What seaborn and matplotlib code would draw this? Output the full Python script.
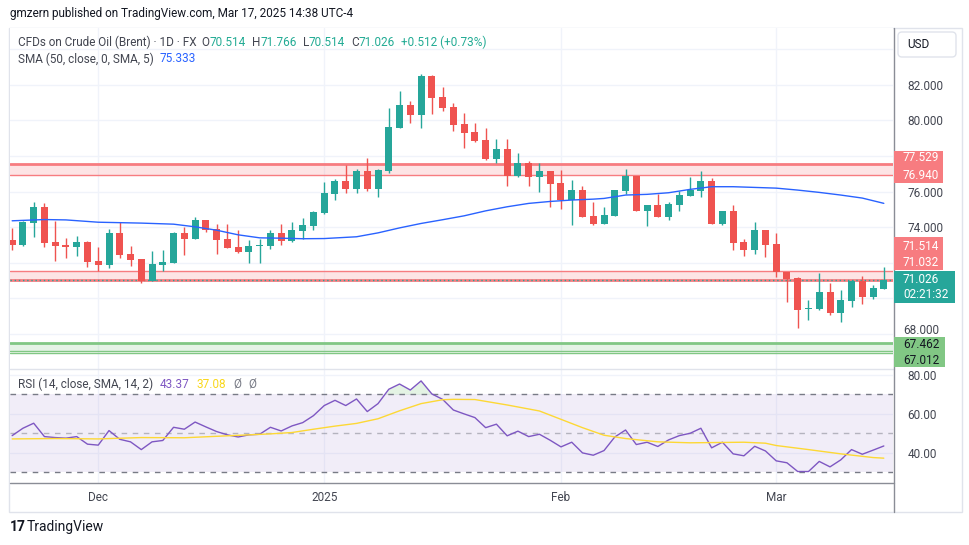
import numpy as np
import pandas as pd
import matplotlib
matplotlib.use("Agg")
import matplotlib.pyplot as plt
import seaborn as sns
from matplotlib.patches import Rectangle, FancyBboxPatch
from matplotlib.lines import Line2D
from matplotlib.transforms import IdentityTransform

# DATOS (barras diarias)
opens = [73.26, 72.98, 74.24, 75.14, 73.15, 72.98, 72.88, 73.15, 72.08, 71.87,
         73.65, 72.47, 72.19, 70.97, 71.87, 71.98, 73.65, 73.33, 74.39, 73.88,
         73.32, 72.86, 72.58, 72.94, 72.92, 73.65, 73.20, 73.79, 74.07, 74.80,
         75.87, 76.59, 76.15, 77.15, 76.15, 77.17, 79.59, 80.87, 80.33, 82.51,
         81.32, 80.76, 79.80, 79.35, 78.90, 77.83, 78.39, 76.87, 77.60, 76.83,
         77.15, 76.47, 75.52, 76.08, 74.61, 74.18, 74.63, 76.02, 76.87, 74.91,
         75.23, 74.58, 75.23, 75.74, 76.04, 76.59, 74.18, 74.89, 73.15, 72.70,
         73.82, 73.03, 71.49, 71.10, 69.39, 69.39, 70.33, 69.16, 69.84, 70.95,
         70.06, 70.514]
highs = [73.92, 74.35, 75.40, 75.33, 74.33, 73.37, 73.48, 73.20, 72.86, 73.88,
         74.27, 72.92, 72.19, 72.64, 72.70, 73.71, 73.99, 74.56, 74.39, 74.16,
         74.16, 73.82, 73.26, 73.35, 73.82, 74.16, 74.27, 74.50, 74.89, 76.53,
         76.72, 77.49, 77.26, 77.88, 77.26, 80.70, 81.66, 81.08, 82.60, 82.56,
         81.89, 80.98, 80.42, 79.86, 79.58, 78.95, 78.95, 78.17, 77.71, 77.60,
         77.15, 77.21, 76.64, 76.30, 75.40, 75.12, 76.08, 77.26, 76.87, 75.23,
         75.87, 75.40, 76.02, 76.81, 77.15, 76.74, 74.89, 75.23, 73.32, 74.27,
         73.82, 73.65, 71.49, 71.19, 69.88, 71.40, 70.83, 70.44, 71.00, 71.23,
         70.72, 71.766]
lows = [72.70, 72.94, 73.45, 72.88, 72.08, 72.26, 72.38, 71.76, 71.53, 71.70,
        72.26, 71.81, 70.85, 70.97, 71.51, 71.98, 72.43, 73.33, 73.73, 72.47,
        72.83, 72.55, 71.98, 71.98, 72.75, 72.98, 73.15, 73.35, 73.82, 74.73,
        75.52, 75.93, 75.93, 76.04, 75.70, 77.06, 79.59, 79.88, 79.59, 80.38,
        80.55, 79.42, 78.47, 78.77, 77.77, 77.60, 76.30, 76.81, 76.30, 75.98,
        75.14, 75.03, 74.12, 74.58, 74.12, 74.18, 74.63, 75.87, 74.91, 74.07,
        74.58, 74.41, 74.91, 75.74, 75.70, 74.18, 74.12, 72.70, 72.38, 72.47,
        72.32, 71.19, 69.78, 68.32, 68.77, 69.33, 69.05, 68.65, 69.50, 69.67,
        69.95, 70.514]
closes = [72.98, 74.26, 75.14, 73.11, 72.94, 72.88, 73.15, 72.04, 71.87, 73.65,
          72.43, 72.15, 70.97, 71.91, 72.04, 73.65, 73.33, 74.39, 73.82, 73.26,
          72.83, 72.58, 72.92, 72.98, 73.65, 73.20, 73.82, 74.11, 74.84, 75.91,
          76.59, 76.15, 77.15, 76.15, 77.21, 79.63, 80.87, 80.33, 82.51, 81.29,
          80.72, 79.76, 79.31, 78.84, 77.83, 78.39, 76.89, 77.60, 76.83, 77.15,
          76.44, 75.52, 76.08, 74.58, 74.18, 74.67, 76.08, 76.87, 74.91, 75.23,
          74.58, 75.29, 75.80, 76.08, 76.59, 74.18, 74.89, 73.11, 72.70, 73.82,
          72.98, 71.47, 71.06, 69.33, 69.42, 70.33, 69.16, 69.88, 70.95, 70.06,
          70.55, 71.026]

sma_idx = [0, 3, 5, 8, 12, 15, 17, 19, 21, 23, 25, 27, 29, 32, 34, 36, 38, 40, 42,
           44, 46, 48, 50, 52, 54, 55, 57, 59, 61, 63, 65, 67, 69, 71, 73, 75, 77,
           79, 81]
sma_val = [74.35, 74.42, 74.40, 74.27, 74.22, 74.16, 74.01, 73.82, 73.56, 73.39,
           73.37, 73.34, 73.35, 73.45, 73.67, 73.95, 74.20, 74.41, 74.63, 74.91,
           75.14, 75.33, 75.44, 75.52, 75.57, 75.61, 75.80, 75.84, 75.93, 76.12,
           76.27, 76.27, 76.23, 76.19, 76.08, 75.95, 75.80, 75.63, 75.333]

rsi = [48.7, 52.5, 55.1, 48.2, 47.7, 47.4, 48.2, 44.3, 43.8, 51.3,
       46.8, 45.5, 41.5, 45.5, 46.2, 53.0, 52.0, 55.7, 53.2, 50.8,
       49.1, 48.0, 49.1, 49.4, 53.0, 51.1, 53.7, 55.4, 59.0, 64.2,
       66.9, 64.2, 67.6, 61.1, 65.2, 72.6, 75.3, 72.2, 76.9, 70.2,
       67.4, 61.9, 59.9, 58.0, 52.8, 54.6, 48.6, 51.0, 48.2, 49.4,
       46.3, 42.9, 45.3, 39.8, 38.6, 41.0, 48.0, 51.6, 44.1, 45.3,
       43.1, 46.5, 48.7, 49.9, 52.5, 42.4, 45.3, 39.3, 38.3, 43.2,
       40.8, 35.7, 34.7, 30.2, 30.2, 35.4, 32.6, 36.2, 41.5, 39.1,
       41.2, 43.37]

rsi_ma_idx = [0, 4, 8, 12, 16, 20, 24, 26, 28, 30, 32, 34, 36, 38, 40, 41, 43, 46,
              49, 51, 53, 55, 57, 60, 63, 68, 70, 71, 74, 77, 80, 81]
rsi_ma_val = [47.0, 47.2, 47.0, 47.7, 47.6, 48.6, 49.6, 50.3, 52.0, 53.6, 55.0,
              57.4, 61.5, 65.2, 67.2, 67.4, 67.3, 64.5, 61.4, 57.1, 52.8, 48.9,
              47.2, 45.5, 45.0, 45.3, 44.8, 43.6, 41.5, 39.3, 37.4, 37.08]

month_idx = [8, 29, 51, 71]
month_lbl = ["Dec", "2025", "Feb", "Mar"]

# niveles del eje: los que tapan las etiquetas de color no se muestran
price_ticks = [68, 70, 72, 74, 76, 78, 80, 82, 84]
price_shown = [74, 76, 80, 82]

red_zones = [(77.529, 76.940), (71.514, 71.032)]
green_zone = (67.462, 67.012)
last_close = 71.026

# COLORES
TEAL = "#26a69a"
RED = "#ef5350"
ZRED = "#f77c80"
ZGREEN = "#81c784"
GRAY = "#434651"
GRID = "#f0f3fa"

sns.set_theme(style="white")
plt.rcParams["font.family"] = ["Roboto", "DejaVu Sans"]

W, H = 970, 545
fig = plt.figure(figsize=(W / 100, H / 100), dpi=100)


def rect(x0, y0, x1, y1):
    return [x0 / W, 1 - y1 / H, (x1 - x0) / W, (y1 - y0) / H]


def D(py):
    return H - py


ax_p = fig.add_axes(rect(10, 28, 893.5, 368.5))
ax_r = fig.add_axes(rect(10, 368.5, 893.5, 483), sharex=ax_p)

df = pd.DataFrame({"o": opens, "h": highs, "l": lows, "c": closes})
df["i"] = np.arange(len(df))
df["col"] = np.where(df["c"] >= df["o"], TEAL, RED)
df["bot"] = df[["o", "c"]].min(axis=1)
df["alto"] = (df["c"] - df["o"]).abs().clip(lower=0.05)

# zonas
for top, bot in red_zones:
    ax_p.axhspan(bot, top, color=ZRED, alpha=0.2, lw=0, zorder=1)
ax_p.axhline(red_zones[0][0], color=ZRED, lw=2, zorder=2)
ax_p.axhline(red_zones[0][1], color=ZRED, lw=1, zorder=2)
ax_p.axhline(red_zones[1][0], color=ZRED, lw=1, zorder=2)
ax_p.axhline(red_zones[1][1], color=ZRED, lw=2, zorder=2)
ax_p.axhspan(green_zone[1], green_zone[0], color=ZGREEN, alpha=0.2, lw=0, zorder=1)
ax_p.axhline(green_zone[0], color=ZGREEN, lw=2, zorder=2)
ax_p.axhline(green_zone[1], color=ZGREEN, lw=1, zorder=2)
ax_p.axhline(green_zone[1] - 0.09, color=ZGREEN, lw=1, zorder=2)
ax_p.axhline(last_close, color=TEAL, lw=1, ls=(0, (1, 2)), zorder=2)

# velas
ax_p.vlines(df["i"], df["l"], df["h"], colors=df["col"], lw=1, zorder=3)
ax_p.bar(df["i"], df["alto"], bottom=df["bot"], width=0.65, color=df["col"],
         lw=0, zorder=4)

sns.lineplot(x=sma_idx, y=sma_val, ax=ax_p, color="#2962ff", lw=1.0, zorder=5)

ax_p.set_xlim(-0.2, 81.9)
ax_p.set_ylim(66.03, 85.21)
ax_p.set_yticks(price_ticks)
ax_p.set_yticklabels([f"{v:.3f}" if v in price_shown else "" for v in price_ticks])
ax_p.yaxis.tick_right()
ax_p.tick_params(axis="y", length=0, pad=10, labelsize=8.5, labelcolor=GRAY)
ax_p.tick_params(axis="x", length=0, labelbottom=False)
ax_p.set_xticks(month_idx)
ax_p.grid(True, color=GRID, lw=1)
ax_p.set_axisbelow(True)
ax_p.set_ylabel("")
for s in ax_p.spines.values():
    s.set_visible(False)

# RSI
ax_r.axhspan(30, 70, color="#7e57c2", alpha=0.1, lw=0)
ax_r.axhline(70, color="#787b86", lw=1, ls=(0, (4, 4)))
ax_r.axhline(30, color="#787b86", lw=1, ls=(0, (4, 4)))
ax_r.axhline(50, color="#787b86", lw=1, ls=(0, (4, 4)), alpha=0.5)
rsi_arr = np.array(rsi)
ax_r.fill_between(df["i"], rsi_arr, 70, where=rsi_arr > 70, interpolate=True,
                  color="#4caf50", alpha=0.15, lw=0)
sns.lineplot(x=df["i"], y=rsi, ax=ax_r, color="#7e57c2", lw=1)
sns.lineplot(x=rsi_ma_idx, y=rsi_ma_val, ax=ax_r, color="#fdd835", lw=1)
ax_r.set_ylim(24.28, 83.3)
ax_r.set_yticks([40, 60, 80])
ax_r.set_yticklabels(["40.00", "60.00", "80.00"])
ax_r.yaxis.tick_right()
ax_r.tick_params(axis="y", length=0, pad=10, labelsize=8.5, labelcolor=GRAY)
ax_r.set_xticks(month_idx)
ax_r.set_xticklabels(month_lbl)
ax_r.tick_params(axis="x", length=0, pad=6, labelsize=8.5, labelcolor=GRAY)
ax_r.grid(True, color=GRID, lw=1)
ax_r.set_axisbelow(True)
ax_r.set_xlabel("")
ax_r.set_ylabel("")
for s in ax_r.spines.values():
    s.set_visible(False)

ID = IdentityTransform()

# marcos y separadores
fig.add_artist(Rectangle((8.5, D(512)), 953, 512 - 27.5, transform=ID,
                         fill=False, ec="#e0e3eb", lw=1, zorder=0))
fig.add_artist(Line2D([10, 893.5], [D(368.5), D(368.5)], transform=ID,
                      color="#e0e3eb", lw=1))
fig.add_artist(Line2D([10, 893.5], [D(483), D(483)], transform=ID,
                      color="#8a8d96", lw=1))
fig.add_artist(Line2D([893.5, 893.5], [D(27.5), D(512)], transform=ID,
                      color="#8a8d96", lw=1))

# etiquetas del eje de precios
fig.add_artist(FancyBboxPatch((898, D(57)), 58, 25, boxstyle="round,pad=0,rounding_size=4",
                              transform=ID, fc="white", ec="#e0e3eb", lw=1, zorder=5))
fig.text(907, D(44.5), "USD", transform=ID, fontsize=8.5, color="#131722",
         va="center", ha="left", zorder=6)
# 68.000 queda justo encima de la caja verde
fig.text(903, D(330.5), "68.000", transform=ID, fontsize=8.5, color=GRAY,
         va="center", ha="left", zorder=4)

boxes = [
    (150.7, 183.3, 943, ZRED, "white", ["77.529", "76.940"], [157.7, 175.7]),
    (237.3, 270.0, 943, ZRED, "white", ["71.514", "71.032"], [246.0, 262.3]),
    (270.5, 303.0, 955, TEAL, "white", ["71.026", "02:21:32"], [279.3, 294.3]),
    (337.0, 367.0, 945, ZGREEN, "#131722", ["67.462", "67.012"], [344.0, 360.0]),
]
for y0, y1, x1, fc, tc, txts, ys in boxes:
    fig.add_artist(Rectangle((894, D(y1)), x1 - 894, y1 - y0, transform=ID,
                             fc=fc, ec="none", zorder=5))
    for t, yy in zip(txts, ys):
        fig.text(903, D(yy), t, transform=ID, fontsize=8.5, color=tc,
                 va="center", ha="left", zorder=6)

renderer = fig.canvas.get_renderer()


def run_text(x, py, parts, size=8.5, weight="normal"):
    for s, c, gap in parts:
        x += gap
        t = fig.text(x, D(py), s, transform=ID, fontsize=size, color=c,
                     va="center", ha="left", zorder=7, fontweight=weight)
        x = t.get_window_extent(renderer).x1


fig.text(10, D(14), "gmzern published on TradingView.com, Mar 17, 2025 14:38 UTC-4",
         transform=ID, fontsize=8.5, color="#131722", va="center", ha="left")

VAL = "#22ab94"
run_text(18, 42, [("CFDs on Crude Oil (Brent) · 1D · FX", GRAY, 0),
                  ("O", GRAY, 5), ("70.514", VAL, 0),
                  ("H", GRAY, 6), ("71.766", VAL, 0),
                  ("L", GRAY, 6), ("70.514", VAL, 0),
                  ("C", GRAY, 6), ("71.026", VAL, 0),
                  ("+0.512 (+0.73%)", VAL, 6)])
run_text(18, 59, [("SMA (50, close, 0, SMA, 5)", GRAY, 0), ("75.333", "#2962ff", 6)])
run_text(18, 384, [("RSI (14, close, SMA, 14, 2)", GRAY, 0), ("43.37", "#7e57c2", 7),
                   ("37.08", "#f9d71c", 7), ("Ø", "#787b86", 7), ("Ø", "#787b86", 7)])

run_text(10, 527, [("17", "#131722", 0)], size=10, weight="bold")
run_text(27, 527, [("TradingView", "#131722", 0)], size=10)

fig.savefig("out.png", dpi=100)
